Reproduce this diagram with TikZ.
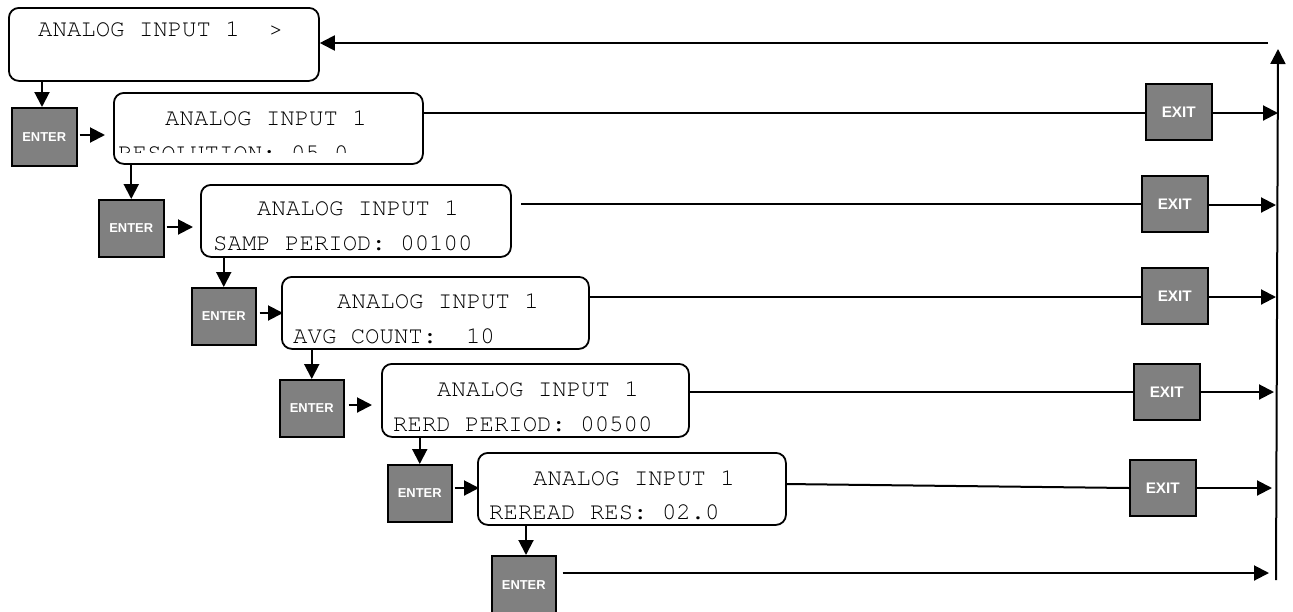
\documentclass[tikz,border=0pt]{standalone}
\usepackage{fontspec}
\setmonofont{texgyrecursor-regular.otf}
\setsansfont{Liberation Sans}
\usetikzlibrary{arrows.meta}
\definecolor{btngray}{HTML}{808080}
\begin{document}
\begin{tikzpicture}[x=1pt,y=-1pt,
  lcd/.style={draw, line width=1.8pt, rounded corners=10pt, anchor=north west, inner sep=0pt, minimum width=308pt, minimum height=72pt},
  btn/.style={draw, line width=1.5pt, fill=btngray, anchor=north west, inner sep=0pt, text=white, minimum width=64pt, minimum height=57pt},
  enterbtn/.style={btn, font=\fontsize{12.9}{14}\sffamily\bfseries},
  exitbtn/.style={btn, minimum width=66pt, minimum height=56pt, font=\fontsize{15.3}{17}\sffamily\bfseries},
  mono/.style={anchor=base west, inner sep=0pt, font=\fontsize{24}{28}\ttfamily},
  ln/.style={line width=2pt},
  arr/.style={line width=2pt, -{Triangle[length=15pt,width=15pt]}}
]
\useasboundingbox[fill=white] (0,0) rectangle (1293,611);

% display boxes
\node[lcd, minimum width=310pt, minimum height=73pt] (b0) at (8,7) {};
\node[lcd, minimum width=309pt, minimum height=71pt] (b1) at (113,92) {};
\node[lcd, minimum width=310pt] (b2) at (200,184) {};
\node[lcd, minimum width=307pt] (b3) at (281,276) {};
\node[lcd, minimum width=307pt, minimum height=73pt] (b4) at (381,363) {};
\node[lcd] (b5) at (477,452) {};

% display texts
\node[mono] (t0) at (38,36) {ANALOG INPUT 1\ \ >};
\node[mono] (t1a) at (165,125) {ANALOG INPUT 1};
\begin{scope}
  \clip (113,92) rectangle (422,152);
  \node[mono] (t1b) at (118,160) {RESOLUTION: 05.0};
\end{scope}
\node[mono] (t2a) at (257,215) {ANALOG INPUT 1};
\node[mono] (t2b) at (213,250) {SAMP PERIOD: 00100};
\node[mono] (t3a) at (337,308) {ANALOG INPUT 1};
\node[mono] (t3b) at (293,343) {AVG COUNT:\ \ 10};
\node[mono] (t4a) at (437,396) {ANALOG INPUT 1};
\node[mono] (t4b) at (393,431) {RERD PERIOD: 00500};
\node[mono] (t5a) at (533,485) {ANALOG INPUT 1};
\node[mono] (t5b) at (489,519) {REREAD RES: 02.0};

% ENTER buttons
\node[enterbtn, minimum width=65pt, minimum height=58pt] (e1) at (11,107) {ENTER};
\node[enterbtn, minimum width=65pt] (e2) at (98,199) {ENTER};
\node[enterbtn] (e3) at (191,287) {ENTER};
\node[enterbtn] (e4) at (279,379) {ENTER};
\node[enterbtn] (e5) at (387,464) {ENTER};
\node[enterbtn, minimum height=58pt] (e6) at (491,555) {ENTER};

% EXIT buttons
\node[exitbtn] (x1) at (1145,83) {EXIT};
\node[exitbtn] (x2) at (1141,175) {EXIT};
\node[exitbtn] (x3) at (1141,267) {EXIT};
\node[exitbtn] (x4) at (1133,363) {EXIT};
\node[exitbtn] (x5) at (1129,459) {EXIT};

% right-hand return path end points
\coordinate (vb) at (1276,580);
\coordinate (vt) at (1278,49);
\coordinate (r1) at (1278,113);
\coordinate (r2) at (1276,205);
\coordinate (r3) at (1276,297);
\coordinate (r4) at (1274,392);
\coordinate (r5) at (1272,488);
\coordinate (r6) at (1269,573);
\coordinate (rt) at (1268,43);
\coordinate (s2) at (521,204);
\coordinate (s5) at (785,484);
\coordinate (x5in) at (1129,488);

% down arrows (display -> ENTER)
\draw[arr] (b0.south -| 42,0) -- (e1.north -| 42,0);
\draw[arr] (b1.south -| e2.north) -- (e2.north);
\draw[arr] (b2.south -| e3.north) -- (e3.north);
\draw[arr] (b3.south -| e4.north) -- (e4.north);
\draw[arr] (b4.south -| e5.north) -- (e5.north);
\draw[arr] (b5.south -| 526,0) -- (e6.north -| 526,0);

% ENTER -> display arrows
\draw[arr, shorten <=2pt, shorten >=8pt] (e1.east |- 0,135) -- (b1.west |- 0,135);
\draw[arr, shorten <=2pt, shorten >=7pt] (e2.east |- 0,227) -- (b2.west |- 0,227);
\draw[arr, shorten <=3pt, shorten >=-2pt] (e3.east |- 0,313) -- (b3.west |- 0,313);
\draw[arr, shorten <=4pt, shorten >=9pt] (e4.east |- 0,405) -- (b4.west |- 0,405);
\draw[arr, shorten <=2pt, shorten >=-2pt] (e5.east |- 0,488) -- (b5.west |- 0,488);

% display -> EXIT lines
\draw[ln] (b1.east |- r1) -- (x1.west |- r1);
\draw[ln] (s2) -- (x2.west |- s2);
\draw[ln] (b3.east |- r3) -- (x3.west |- r3);
\draw[ln] (b4.east |- r4) -- (x4.west |- r4);
\draw[ln] (s5) -- (x5in);

% EXIT -> return path arrows
\draw[arr] (x1.east |- r1) -- (r1);
\draw[arr] (x2.east |- r2) -- (r2);
\draw[arr] (x3.east |- r3) -- (r3);
\draw[arr] (x4.east |- r4) -- (r4);
\draw[arr] (x5.east |- r5) -- (r5);
\draw[arr, shorten <=6pt] (e6.east |- r6) -- (r6);

% return path
\draw[arr] (vb) -- (vt);
\draw[arr] (rt) -- (b0.east |- rt);
\end{tikzpicture}
\end{document}
